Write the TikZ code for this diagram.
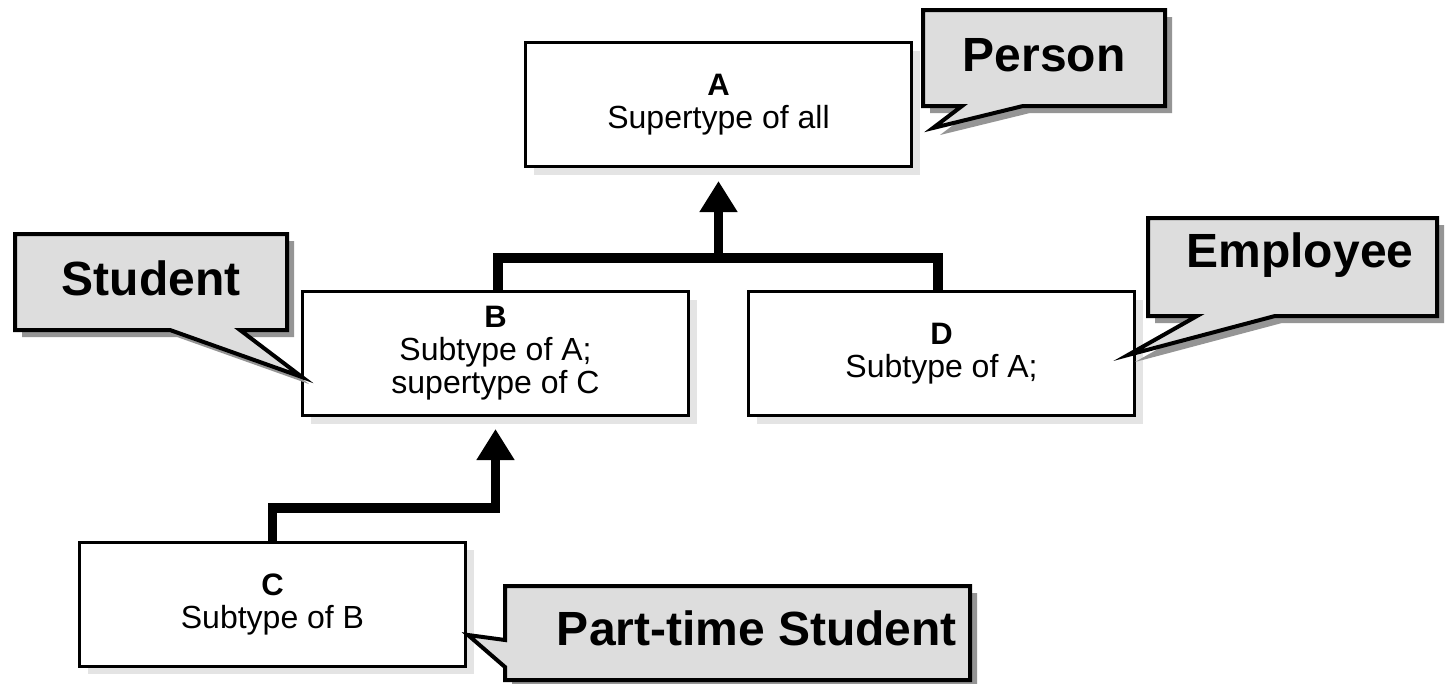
\documentclass[tikz,border=0pt]{standalone}
\usepackage{fontspec}
\setmainfont{Liberation Sans}
\usetikzlibrary{arrows.meta,shadows}
\definecolor{calloutfill}{HTML}{DDDDDD}
\definecolor{calloutshade}{HTML}{959595}
\definecolor{boxshade}{HTML}{E4E4E4}
\begin{document}
\begin{tikzpicture}[x=1pt,y=-1pt,
  typebox/.style={draw=black, line width=3pt, fill=white, inner sep=0pt,
    minimum width=386pt, minimum height=124pt, align=center,
    font=\fontsize{32}{33}\selectfont,
    general shadow={shadow xshift=8pt, shadow yshift=-8pt, fill=boxshade}},
  callshape/.style={draw=black, fill=calloutfill, line width=4pt, line join=miter,
    general shadow={shadow xshift=7pt, shadow yshift=-7pt, fill=calloutshade}},
  calltext/.style={font=\bfseries\fontsize{48}{52}\selectfont, inner sep=0pt, anchor=base},
  conn/.style={draw=black, line width=9.5pt, line join=miter},
  headtip/.style={-{Triangle[length=31pt,width=36pt]}}
]
\useasboundingbox (0,0) rectangle (1446,683);
\fill[white] (0,0) rectangle (1446,683);

% type boxes
\node[typebox] (A) at (718.5,104.5) {{\bfseries\fontsize{31}{33}\selectfont A}\\Supertype of all};
\node[typebox] (B) at (495.5,353.5) {{\bfseries\fontsize{31}{33}\selectfont B}\\Subtype of A;\\supertype of C};
\node[typebox] (D) at (941.5,353.5) {{\bfseries\fontsize{31}{33}\selectfont D}\\Subtype of A;};
\node[typebox] (C) at (272.5,604) {{\bfseries\fontsize{31}{33}\selectfont C}\\Subtype of B};

% connectors
\coordinate (jA) at (A.south |- 0,258);
\coordinate (jC) at (B.south |- 0,508);
\draw[conn] ([xshift=2.5pt]B.north) |- (jA) -| ([xshift=-3.5pt]D.north);
\draw[conn,headtip] (jA) -- ([yshift=-13pt]A.south);
\draw[conn,headtip] (C.north) |- (jC) -- ([yshift=-12pt]B.south);

% callouts
\path[callshape] (923,10) -- (1165,10) -- (1165,106) -- (1023,106) -- (933,128) -- (962,106) -- (923,106) -- cycle;
\node[calltext] (person) at (1044,71) {Person};

\path[callshape] (15,234) -- (287,234) -- (287,330) -- (240,330) -- (302,377) -- (170,330) -- (15,330) -- cycle;
\node[calltext] (student) at (151,295) {Student};

\path[callshape] (1148,218) -- (1437,218) -- (1437,316) -- (1275,316) -- (1128,355) -- (1197,316) -- (1148,316) -- cycle;
\node[calltext] (employee) at (1300,267) {Employee};

\path[callshape] (505,586) -- (970,586) -- (970,680) -- (505,680) -- (505,667) -- (468,635) -- (505,640) -- cycle;
\node[calltext] (parttime) at (757,645) {Part-time Student};
\end{tikzpicture}
\end{document}
